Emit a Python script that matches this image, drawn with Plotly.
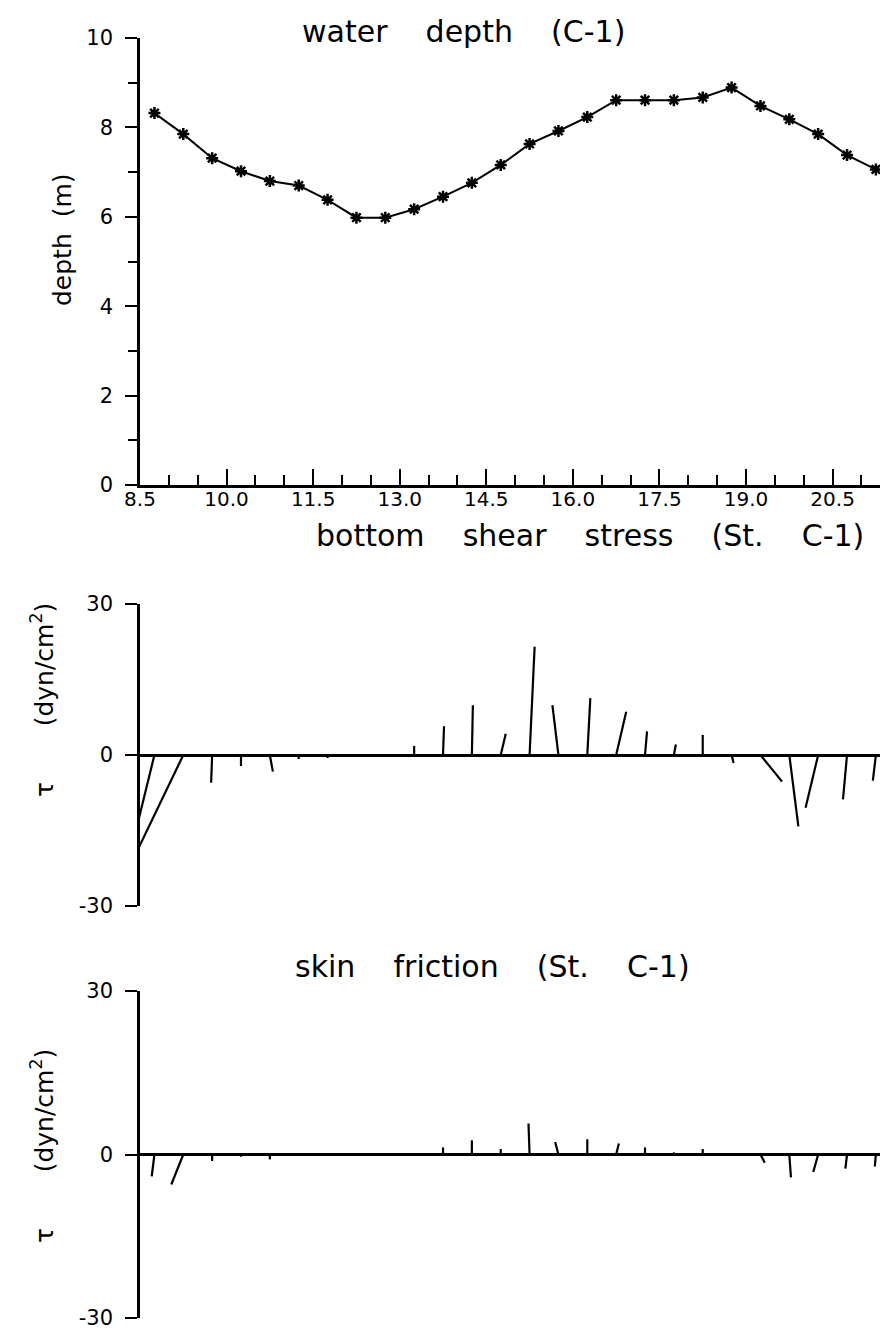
import plotly.graph_objects as go

# ---------------- data ----------------
times = [8.75, 9.25, 9.75, 10.25, 10.75, 11.25, 11.75, 12.25, 12.75, 13.25,
         13.75, 14.25, 14.75, 15.25, 15.75, 16.25, 16.75, 17.25, 17.75, 18.25,
         18.75, 19.25, 19.75, 20.25, 20.75, 21.25]

depth = [8.32, 7.85, 7.31, 7.02, 6.80, 6.70, 6.38, 5.98, 5.98, 6.17,
         6.45, 6.76, 7.16, 7.63, 7.92, 8.23, 8.61, 8.61, 8.61, 8.67,
         8.89, 8.48, 8.18, 7.85, 7.38, 7.06]

# bottom shear stress vector components (dyn/cm2)
shear_u = [-3.9, -8.8, -0.2, 0.0, 0.6, 0.0, 0.0, 0.0, 0.0, 0.0,
           0.2, 0.2, 1.0, 1.0, -1.2, 0.6, 2.0, 0.4, 0.4, 0.0,
           0.4, 4.3, 1.8, -2.5, -0.8, -0.6]
shear_v = [-15.9, -18.3, -5.5, -2.2, -3.3, -0.8, -0.6, 0.0, 0.0, 1.8,
           5.7, 9.9, 4.2, 21.5, 9.9, 11.3, 8.6, 4.7, 2.1, 4.0,
           -1.6, -5.3, -14.2, -10.5, -8.8, -5.1]

# skin friction vector components (dyn/cm2)
skin_u = [-0.5, -2.2, 0.0, 0.0, 0.0, 0.0, 0.0, 0.0, 0.0, 0.0,
          0.0, 0.0, 0.0, -0.2, -0.6, 0.0, 0.5, 0.0, 0.0, 0.0,
          0.0, 0.8, 0.3, -0.9, -0.3, -0.2]
skin_v = [-4.0, -5.5, -1.2, -0.4, -0.9, 0.0, 0.0, 0.0, 0.0, 0.2,
          1.3, 2.6, 1.0, 5.7, 2.3, 2.8, 2.0, 1.3, 0.4, 1.0,
          -0.2, -1.5, -4.2, -3.2, -2.6, -2.2]

x_ticks_major = [8.5, 10.0, 11.5, 13.0, 14.5, 16.0, 17.5, 19.0, 20.5]
tau_ticks = [-30, 0, 30]
tau_labels = ["-30", "0", "30"]

# ---------------- layout geometry ----------------
OFF = 8                      # page body margin
W, H = 888 - OFF, 1338 - OFF
x_left_px = 140 - OFF
x_range = [8.5, 21.46]
px_per_hour = (W - x_left_px) / (x_range[1] - x_range[0])


def px(xs):
    return (xs - OFF) / W


def py(ys):
    return 1 - (ys - OFF) / H


def ydom(top_px, bot_px):
    return [py(bot_px), py(top_px)]


dom_top = ydom(38, 485)
dom_mid = ydom(604, 906)
dom_low = ydom(991, 1318)


def sticks(t, u, v, dom, yspan):
    px_per_unit = (dom[1] - dom[0]) * H / yspan
    k = px_per_unit / px_per_hour  # hours per dyn/cm2 (equal visual scale)
    xs, ys = [], []
    for ti, ui, vi in zip(t, u, v):
        xs += [ti, ti + ui * k, None]
        ys += [0, vi, None]
    return xs, ys


fig = go.Figure()

fig.add_trace(go.Scatter(
    x=times, y=depth, mode="lines+markers",
    line=dict(color="black", width=2),
    marker=dict(symbol="asterisk-open", size=10, color="black",
                line=dict(color="black", width=2.5)),
    xaxis="x", yaxis="y", showlegend=False))

sx, sy = sticks(times, shear_u, shear_v, dom_mid, 60)
fig.add_trace(go.Scatter(x=sx, y=sy, mode="lines",
                         line=dict(color="black", width=2.2),
                         xaxis="x2", yaxis="y2", showlegend=False))

kx, ky = sticks(times, skin_u, skin_v, dom_low, 60)
fig.add_trace(go.Scatter(x=kx, y=ky, mode="lines",
                         line=dict(color="black", width=2.2),
                         xaxis="x3", yaxis="y3", showlegend=False))

FONT = "DejaVu Sans"
xdom = [x_left_px / W, 1.0]

common_y = dict(showline=True, linecolor="black", linewidth=2.5,
                ticks="outside", tickcolor="black", tickwidth=2,
                showgrid=False, tickfont=dict(size=21, color="black"),
                ticklabelstandoff=8, automargin=False)

fig.update_layout(
    width=W, height=H,
    margin=dict(l=0, r=0, t=0, b=0, pad=0),
    paper_bgcolor="white", plot_bgcolor="white",
    font=dict(family=FONT, color="black"),
    xaxis=dict(domain=xdom, range=x_range, anchor="y", automargin=False,
               showline=True, linecolor="black", linewidth=2.5,
               ticks="inside", ticklen=16, tickwidth=2, tickcolor="black",
               tickvals=x_ticks_major, tickformat=".1f",
               minor=dict(dtick=0.5, tick0=8.5, ticks="inside", ticklen=10,
                          tickwidth=2, tickcolor="black", showgrid=False),
               showgrid=False, zeroline=False,
               tickfont=dict(size=20, color="black"), ticklabelstandoff=-6),
    yaxis=dict(domain=dom_top, range=[0, 10], anchor="x",
               dtick=2, tick0=0, ticklen=12, zeroline=False,
               minor=dict(dtick=1, ticks="outside", ticklen=9, tickwidth=2,
                          tickcolor="black", showgrid=False),
               **common_y),
    xaxis2=dict(domain=xdom, range=x_range, anchor="y2", visible=False,
                automargin=False),
    yaxis2=dict(domain=dom_mid, range=[-30, 30], anchor="x2",
                tickvals=tau_ticks, ticktext=tau_labels, ticklen=12,
                zeroline=True, zerolinecolor="black", zerolinewidth=2.5,
                **common_y),
    xaxis3=dict(domain=xdom, range=x_range, anchor="y3", visible=False,
                automargin=False),
    yaxis3=dict(domain=dom_low, range=[-30, 30], anchor="x3",
                tickvals=tau_ticks, ticktext=tau_labels, ticklen=12,
                zeroline=True, zerolinecolor="black", zerolinewidth=2.5,
                **common_y),
)

TF = dict(family=FONT, size=30, color="black")
annots = [
    dict(text="water    depth    (C-1)", x=px(463), y=py(32)),
    dict(text="bottom    shear    stress    (St.    C-1)", x=px(590), y=py(535)),
    dict(text="skin    friction    (St.    C-1)", x=px(492), y=py(966)),
]
for a in annots:
    fig.add_annotation(xref="paper", yref="paper", showarrow=False,
                       xanchor="center", yanchor="middle", font=TF, **a)

YF = dict(family=FONT, size=25, color="black")
ylabels = [
    dict(text="depth  (m)", x=px(62), y=py(240)),
    dict(text="τ       (dyn/cm<sup>2</sup>)", x=px(42), y=py(700)),
    dict(text="τ       (dyn/cm<sup>2</sup>)", x=px(42), y=py(1146)),
]
for a in ylabels:
    fig.add_annotation(xref="paper", yref="paper", showarrow=False,
                       textangle=-90, xanchor="center", yanchor="middle",
                       font=YF, **a)

fig.write_html("out.html")
